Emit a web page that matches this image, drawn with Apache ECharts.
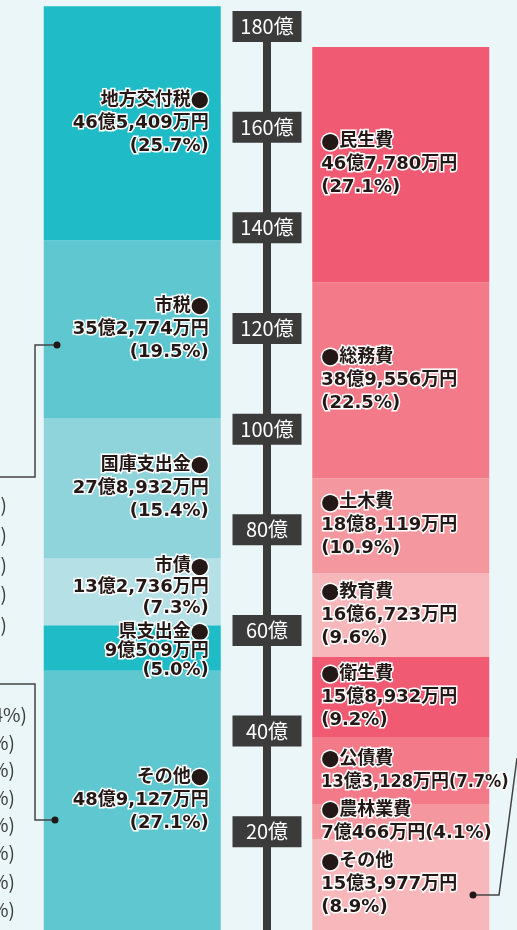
<!DOCTYPE html>
<html>
<head>
<meta charset="utf-8">
<script src="https://cdn.jsdelivr.net/npm/echarts@6/dist/echarts.min.js"></script>
<style>
html, body { margin: 0; padding: 0; background: #ebf6f8; }
#chart { width: 517px; height: 930px; }
</style>
</head>
<body>
<div id="chart"></div>
<script>
// 歳入 / 歳出 (単位: 万円), listed top to bottom as in the picture
var sides = ['歳入', '歳出'];

var revNames  = ['地方交付税', '市税', '国庫支出金', '市債', '県支出金', 'その他'];
var revValues = [465409, 352774, 278932, 132736, 90509, 489127];
var revShares = ['25.7', '19.5', '15.4', '7.3', '5.0', '27.1'];

var expNames  = ['民生費', '総務費', '土木費', '教育費', '衛生費', '公債費', '農林業費', 'その他'];
var expValues = [467780, 389556, 188119, 166723, 158932, 133128, 70466, 153977];
var expShares = ['27.1', '22.5', '10.9', '9.6', '9.2', '7.7', '4.1', '8.9'];

var axisTicks = [200000, 400000, 600000, 800000, 1000000, 1200000, 1400000, 1600000, 1800000];

var revColors = ['#1fbcc8', '#5fc7d0', '#8fd4db', '#b4e0e6', '#1fbcc8', '#5fc7d0'];
var expColors = ['#f05a73', '#f37a88', '#f5979e', '#f8b8bb', '#f05a73', '#f37a88', '#f5979e', '#f8b8bb'];

// small label tweaks where two short segments sit next to each other
var revLabelTweak = { '市債': { lineHeight: 21, offset: [0, -4] }, '県支出金': { lineHeight: 19, offset: [0, 3] } };

function yen(v) {
    var oku = Math.floor(v / 10000);
    var man = v % 10000;
    var s = man >= 1000 ? Math.floor(man / 1000) + ',' + String(man % 1000).padStart(3, '0') : String(man);
    return oku + '億' + s + '万円';
}

var outline = { color: '#231815', textBorderColor: '#ffffff', textBorderWidth: 3, fontWeight: 'bold', fontSize: 18 };
var labelBase = Object.assign({
    show: true,
    fontFamily: '"DejaVu Sans", "Noto Sans CJK JP"',
    lineHeight: 23,
    rich: {
        d: Object.assign({ fontFamily: 'Noto Sans CJK JP' }, outline),
        n: Object.assign({ fontFamily: '"DejaVu Sans Condensed", "Noto Sans CJK JP"' }, outline)
    }
}, outline);

var series = [];
for (let i = revNames.length - 1; i >= 0; i--) {
    series.push({
        name: revNames[i],
        type: 'bar',
        stack: 'rev',
        barWidth: 177,
        barGap: '-100%',
        data: [revValues[i], '-'],
        itemStyle: { color: revColors[i] },
        label: Object.assign({}, labelBase, {
            position: 'insideRight',
            distance: 12,
            formatter: function (p) {
                return revNames[i] + '{d|●}\n' + yen(p.value) + '\n(' + revShares[i] + '%)';
            }
        }, revLabelTweak[revNames[i]] || {})
    });
}
for (let i = expNames.length - 1; i >= 0; i--) {
    series.push({
        name: expNames[i],
        type: 'bar',
        stack: 'exp',
        barWidth: 177,
        barGap: '-100%',
        data: ['-', expValues[i]],
        itemStyle: { color: expColors[i] },
        label: Object.assign({}, labelBase, {
            position: 'insideLeft',
            distance: 9,
            formatter: function (p) {
                var head = '{d|●}' + expNames[i] + '\n';
                var pct = '(' + expShares[i] + '%)';
                if (p.value >= 140000) return head + yen(p.value) + '\n' + pct;
                var line = yen(p.value) + pct;
                return head + (line.length > 14 ? '{n|' + line + '}' : line);
            }
        })
    });
}

// cut-off breakdown text at the left edge and leader lines
var fragFont = '19px "Noto Sans CJK JP"';
var graphics = [];
[505, 535, 565, 594, 625].forEach(function (y) {
    graphics.push({ type: 'text', z: 10, style: { text: ')', x: 7, y: y, align: 'right', verticalAlign: 'middle', fill: '#3a3a3a', font: fragFont } });
});
graphics.push({ type: 'text', z: 10, style: { text: '4%)', x: 27, y: 715, align: 'right', verticalAlign: 'middle', fill: '#3a3a3a', font: fragFont } });
[743, 770, 798, 825, 853, 882, 910].forEach(function (y) {
    graphics.push({ type: 'text', z: 10, style: { text: '%)', x: 15, y: y, align: 'right', verticalAlign: 'middle', fill: '#3a3a3a', font: fragFont } });
});
var leaders = [
    [[57, 345], [35, 345], [35, 477], [0, 477]],
    [[55, 820], [35, 820], [35, 684], [0, 684]],
    [[473, 895], [499, 895], [517, 758]]
];
leaders.forEach(function (pts) {
    graphics.push({ type: 'polyline', z: 10, shape: { points: pts }, style: { stroke: '#444', lineWidth: 1.5, fill: null } });
    graphics.push({ type: 'circle', z: 10, shape: { cx: pts[0][0], cy: pts[0][1], r: 3.5 }, style: { fill: '#231815' } });
});

var chart = echarts.init(document.getElementById('chart'));
chart.setOption({
    backgroundColor: '#ebf6f8',
    animation: false,
    grid: [
        { left: -2, width: 537, top: 1, bottom: 0, outerBoundsMode: 'none', containLabel: false },
        { left: 267, width: 1, top: 11, bottom: 0, outerBoundsMode: 'none', containLabel: false }
    ],
    xAxis: [
        { type: 'category', data: sides, gridIndex: 0, show: false },
        { type: 'category', data: [''], gridIndex: 1, show: false }
    ],
    yAxis: [
        { type: 'value', gridIndex: 0, min: -26000, max: 1820000, startValue: -26000, show: false },
        {
            type: 'value', gridIndex: 1, min: -26000, max: 1800000,
            splitLine: { show: false },
            axisLine: { show: true, lineStyle: { color: '#3b3b3b', width: 8, cap: 'butt' } },
            axisTick: { show: false },
            axisLabel: {
                customValues: axisTicks,
                formatter: function (v) { return (v / 10000) + '億'; },
                margin: 0,
                align: 'center',
                verticalAlign: 'top',
                width: 53,
                padding: [3, 8],
                lineHeight: 25,
                fontSize: 20,
                fontFamily: 'Noto Sans CJK JP',
                color: '#ffffff',
                backgroundColor: '#3b3b3b'
            }
        }
    ],
    series: series,
    graphic: graphics
});
</script>
</body>
</html>
